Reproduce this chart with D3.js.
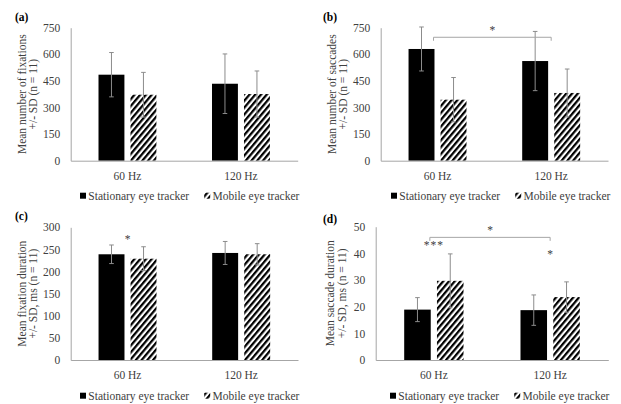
<!DOCTYPE html>
<html>
<head>
<meta charset="utf-8">
<script src="https://cdn.jsdelivr.net/npm/d3@7"></script>
<style>
  html, body { margin: 0; padding: 0; background: #fff; }
  svg { display: block; }
  text { font-family: "Liberation Serif", "Times New Roman", serif; }
</style>
</head>
<body>
<svg id="chart" width="621" height="404"></svg>
<script>
// ---------------- data ----------------
const categories = ["60 Hz", "120 Hz"];
const seriesNames = ["Stationary eye tracker", "Mobile eye tracker"];

const fixCountStationary = [485, 434];
const fixCountStationarySD = [125, 168];
const fixCountMobile = [372, 376];
const fixCountMobileSD = [126, 130];

const saccCountStationary = [630, 562];
const saccCountStationarySD = [124, 167];
const saccCountMobile = [344, 382];
const saccCountMobileSD = [125, 135];

const fixDurStationary = [239, 242];
const fixDurStationarySD = [21, 26];
const fixDurMobile = [229, 239];
const fixDurMobileSD = [27, 24];

const saccDurStationary = [18.9, 18.7];
const saccDurStationarySD = [4.5, 5.7];
const saccDurMobile = [29.7, 23.6];
const saccDurMobileSD = [10.1, 5.7];

const ticksCount = [0, 150, 300, 450, 600, 750];
const ticksFixDur = [0, 50, 100, 150, 200, 250, 300];
const ticksSaccDur = [0, 10, 20, 30, 40, 50];

const panelLabels = ["(a)", "(b)", "(c)", "(d)"];
const yTitles = [
  ["Mean number of fixations", "+/- SD (n = 11)"],
  ["Mean number of saccades", "+/- SD (n = 11)"],
  ["Mean fixation duration", "+/- SD, ms (n = 11)"],
  ["Mean saccade duration", "+/- SD, ms (n = 11)"]
];
// significance annotations (value units)
const bracketsB = [{ from: "60 Hz", to: "120 Hz", y: 696, label: "*", labelY: 744 }];
const bracketsD = [{ from: "60 Hz", to: "120 Hz", y: 46, label: "*", labelY: 49.4 }];
const starsC = [{ cat: "60 Hz", y: 276.5, label: "*" }];
const starsD = [{ cat: "60 Hz", y: 43.8, label: "***" }, { cat: "120 Hz", y: 40.4, label: "*" }];

// ---------------- layout ----------------
const panels = [
  { label: panelLabels[0], title: yTitles[0], ticks: ticksCount,
    values: [fixCountStationary, fixCountMobile], sds: [fixCountStationarySD, fixCountMobileSD],
    left: 70.7, right: 297.7, top: 27.7, bottom: 160.7,
    labelX: 15, labelY: 21, titleX: 21.7, legendX: 80, legendY: 199.5,
    brackets: [], stars: [] },
  { label: panelLabels[1], title: yTitles[1], ticks: ticksCount,
    values: [saccCountStationary, saccCountMobile], sds: [saccCountStationarySD, saccCountMobileSD],
    left: 380.7, right: 608, top: 27.7, bottom: 160.7,
    labelX: 323, labelY: 21, titleX: 331.7, legendX: 391, legendY: 199.5,
    brackets: bracketsB, stars: [] },
  { label: panelLabels[2], title: yTitles[2], ticks: ticksFixDur,
    values: [fixDurStationary, fixDurMobile], sds: [fixDurStationarySD, fixDurMobileSD],
    left: 70.7, right: 298, top: 227.3, bottom: 360,
    labelX: 15, labelY: 220, titleX: 21.7, legendX: 80, legendY: 399.5,
    brackets: [], stars: starsC },
  { label: panelLabels[3], title: yTitles[3], ticks: ticksSaccDur,
    values: [saccDurStationary, saccDurMobile], sds: [saccDurStationarySD, saccDurMobileSD],
    left: 375.7, right: 608.3, top: 226.7, bottom: 360,
    labelX: 323, labelY: 223, titleX: 330, legendX: 390, legendY: 399.5,
    brackets: bracketsD, stars: starsD }
];

const FS = 11.5;
const textColor = "#404040";
const axisColor = "#a6a6a6";
const errColor = "#8c8c8c";

const svg = d3.select("#chart");
const defs = svg.append("defs");
const pat = defs.append("pattern")
  .attr("id", "hatch")
  .attr("patternUnits", "userSpaceOnUse")
  .attr("width", 4.4).attr("height", 4.4)
  .attr("patternTransform", "rotate(40)");
pat.append("rect").attr("width", 4.4).attr("height", 4.4).attr("fill", "#fff");
pat.append("line").attr("x1", 1.1).attr("x2", 1.1).attr("y1", 0).attr("y2", 4.4)
  .attr("stroke", "#000").attr("stroke-width", 2.3);

const fills = ["#000", "url(#hatch)"];

panels.forEach(p => {
  const g = svg.append("g");
  const x0 = d3.scaleBand().domain(categories).range([p.left, p.right]).padding(0);
  const bw = x0.bandwidth();
  const x1 = d3.scaleBand().domain(seriesNames)
    .range([bw * 0.245, bw * 0.755]).paddingInner(0.19).paddingOuter(0);
  const y = d3.scaleLinear().domain([0, d3.max(p.ticks)]).range([p.bottom, p.top]);

  // bars
  seriesNames.forEach((s, si) => {
    categories.forEach((c, ci) => {
      const v = p.values[si][ci];
      g.append("rect")
        .attr("x", x0(c) + x1(s))
        .attr("y", y(v))
        .attr("width", x1.bandwidth())
        .attr("height", y(0) - y(v))
        .attr("fill", fills[si]);
    });
  });

  // error bars
  seriesNames.forEach((s, si) => {
    categories.forEach((c, ci) => {
      const v = p.values[si][ci], sd = p.sds[si][ci];
      const cx = x0(c) + x1(s) + x1.bandwidth() / 2;
      const eg = g.append("g").attr("stroke", errColor).attr("stroke-width", 1);
      eg.append("line").attr("x1", cx).attr("x2", cx).attr("y1", y(v - sd)).attr("y2", y(v + sd));
      eg.append("line").attr("x1", cx - 2.3).attr("x2", cx + 2.3).attr("y1", y(v + sd)).attr("y2", y(v + sd));
      eg.append("line").attr("x1", cx - 2.3).attr("x2", cx + 2.3).attr("y1", y(v - sd)).attr("y2", y(v - sd));
    });
  });

  // y axis
  const ya = g.append("g").attr("transform", `translate(${p.left},0)`)
    .call(d3.axisLeft(y).tickValues(p.ticks).tickSize(0).tickPadding(10.5).tickSizeOuter(0));
  ya.select(".domain").attr("stroke", axisColor).attr("stroke-width", 1);
  ya.selectAll("text").attr("fill", textColor).style("font-size", FS + "px")
    .style("font-family", "'Liberation Serif', serif");

  // x axis
  const xa = g.append("g").attr("transform", `translate(0,${p.bottom})`)
    .call(d3.axisBottom(x0).tickSize(0).tickPadding(11).tickSizeOuter(0));
  xa.select(".domain").attr("stroke", axisColor).attr("stroke-width", 1);
  xa.selectAll("text").attr("fill", textColor).style("font-size", FS + "px")
    .style("font-family", "'Liberation Serif', serif");

  // panel label
  g.append("text").attr("x", p.labelX).attr("y", p.labelY)
    .attr("font-weight", "bold").attr("font-size", FS).attr("fill", "#000")
    .text(p.label);

  // y title
  const cy = (p.top + p.bottom) / 2;
  p.title.forEach((t, i) => {
    g.append("text")
      .attr("transform", `translate(${p.titleX + i * 11.6},${cy}) rotate(-90)`)
      .attr("text-anchor", "middle").attr("dy", "0.35em")
      .attr("font-size", FS).attr("fill", textColor)
      .text(t);
  });

  // brackets
  p.brackets.forEach(b => {
    const xa1 = x0(b.from) + bw / 2 - 4, xb1 = x0(b.to) + bw / 2;
    const by = y(b.y);
    g.append("path")
      .attr("d", `M${xa1},${by + 3.5}V${by}H${xb1}V${by + 3.5}`)
      .attr("fill", "none").attr("stroke", axisColor).attr("stroke-width", 1);
    g.append("text").attr("x", (xa1 + xb1) / 2).attr("y", y(b.labelY) + 5.5)
      .attr("text-anchor", "middle").attr("font-size", FS).attr("fill", textColor)
      .text(b.label);
  });

  // stars
  p.stars.forEach(s => {
    g.append("text").attr("x", x0(s.cat) + bw / 2).attr("y", y(s.y) + 5.5)
      .attr("text-anchor", "middle").attr("font-size", FS).attr("fill", textColor)
      .attr("letter-spacing", s.label.length > 1 ? "1px" : null)
      .text(s.label);
  });

  // legend
  const lg = g.append("g");
  let lx = p.legendX;
  seriesNames.forEach((s, si) => {
    lg.append("rect").attr("x", lx).attr("y", p.legendY - 6.8).attr("width", 6).attr("height", 6)
      .attr("fill", fills[si]);
    const t = lg.append("text").attr("x", lx + 8.3).attr("y", p.legendY)
      .attr("font-size", FS).attr("fill", textColor).text(s);
    lx = lx + 8.3 + t.node().getComputedTextLength() + 15;
  });
});
</script>
</body>
</html>
